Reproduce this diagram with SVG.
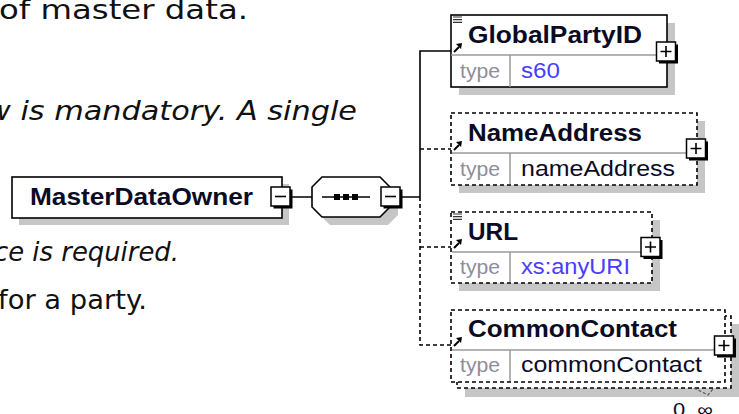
<svg xmlns="http://www.w3.org/2000/svg" width="739" height="414" viewBox="0 0 739 414">
<style>
.doc{font-family:"DejaVu Sans",Verdana,sans-serif;font-size:27px;fill:#111}
.it{font-style:italic}
.lbl{font-family:"Liberation Sans",Arial,sans-serif;font-weight:bold;font-size:23px;fill:#0b0b24}
.tp{font-family:"Liberation Sans",Arial,sans-serif;font-size:20px;fill:#8d8d9d}
.tv{font-family:"Liberation Sans",Arial,sans-serif;font-size:22px;fill:#0b0b24}
.blue{fill:#4a3cff}
.sh{fill:#c6c6c6}
.box{fill:#fff;stroke:#000;stroke-width:1.6}
.opt{stroke-dasharray:4 3}
.dv{stroke:#9a9a9a;stroke-width:1.5;fill:none}
.ln{stroke:#000;stroke-width:1.6;fill:none}
.dl{stroke:#000;stroke-width:1.6;fill:none;stroke-dasharray:4 3}
</style>
<defs>
<g id="plus">
<rect x="2.5" y="2.5" width="19" height="19" fill="#000"/>
<rect x="0" y="0" width="19" height="19" fill="#fff" stroke="#000" stroke-width="1.5"/>
<path d="M4 9.5H15M9.5 4V15" stroke="#000" stroke-width="1.6"/>
</g>
<g id="minus">
<rect x="2.5" y="2.5" width="19" height="19" fill="#000"/>
<rect x="0" y="0" width="19" height="19" fill="#fff" stroke="#000" stroke-width="1.5"/>
<path d="M4 9.5H15" stroke="#000" stroke-width="1.6"/>
</g>
<g id="arr">
<path d="M1 9L6 4" stroke="#000" stroke-width="2"/>
<polygon points="3,1 9,0 8,6" fill="#000"/>
</g>
<g id="docic">
<path d="M0 1H9M0 3.7H9M0 6.4H9" stroke="#333" stroke-width="1.2"/>
</g>
</defs>

<g id="text">
<text class="doc" x="-1" y="19" textLength="249" lengthAdjust="spacingAndGlyphs">of master data.</text>
<text class="doc it" x="-14" y="120" textLength="371" lengthAdjust="spacingAndGlyphs">w is mandatory. A single</text>
<text class="doc it" x="-6" y="261" textLength="185" lengthAdjust="spacingAndGlyphs">ce is required.</text>
<text class="doc" x="-2" y="309" textLength="149" lengthAdjust="spacingAndGlyphs">for a party.</text>
</g>

<g id="connectors">
<path class="ln" d="M292 197H312M401 197H420M420 197V51H451"/>
<path class="dl" d="M420 149H451M420 197V345H451M420 247H451"/>
</g>

<g id="MasterDataOwner">
<rect class="sh" x="19" y="184" width="270" height="41"/>
<rect class="box" x="12" y="177" width="270" height="41"/>
<text class="lbl" x="30" y="205" textLength="223" lengthAdjust="spacingAndGlyphs">MasterDataOwner</text>
<use href="#minus" x="271" y="187"/>
</g>

<g id="sequence">
<polygon class="sh" points="330,185 388,185 398,195 398,215 388,225 330,225 320,215 320,195"/>
<polygon class="box" points="322,177 380,177 390,187 390,207 380,217 322,217 312,207 312,187"/>
<path d="M322 197H370" stroke="#000" stroke-width="1.5"/>
<rect x="334" y="194" width="6" height="6" fill="#000"/>
<rect x="343" y="194" width="6" height="6" fill="#000"/>
<rect x="352" y="194" width="6" height="6" fill="#000"/>
<use href="#minus" x="381" y="187"/>
</g>

<g id="GlobalPartyID">
<rect class="sh" x="459" y="23" width="216" height="72"/>
<rect class="box" x="451" y="15" width="216" height="72"/>
<path class="dv" d="M451 55H667M510 55V87"/>
<use href="#docic" x="453" y="16"/>
<use href="#arr" x="453" y="43"/>
<text class="lbl" x="468" y="43" textLength="174" lengthAdjust="spacingAndGlyphs">GlobalPartyID</text>
<text class="tp" x="460" y="78" textLength="40" lengthAdjust="spacingAndGlyphs">type</text>
<text class="tv blue" x="521" y="78" textLength="39" lengthAdjust="spacingAndGlyphs">s60</text>
<use href="#plus" x="656.5" y="42"/>
</g>

<g id="NameAddress">
<rect class="sh" x="459" y="121" width="246" height="72"/>
<rect class="box opt" x="451" y="113" width="246" height="72"/>
<path class="dv" d="M452 153H696M510 153V184"/>
<use href="#arr" x="453" y="141"/>
<text class="lbl" x="468" y="141" textLength="174" lengthAdjust="spacingAndGlyphs">NameAddress</text>
<text class="tp" x="460" y="176" textLength="40" lengthAdjust="spacingAndGlyphs">type</text>
<text class="tv" x="521" y="176" textLength="154" lengthAdjust="spacingAndGlyphs">nameAddress</text>
<use href="#plus" x="686.5" y="139"/>
</g>

<g id="URL">
<rect class="sh" x="459" y="220" width="201" height="71"/>
<rect class="box opt" x="451" y="212" width="201" height="71"/>
<path class="dv" d="M452 252H651M510 252V282"/>
<use href="#docic" x="453" y="213"/>
<use href="#arr" x="453" y="239"/>
<text class="lbl" x="468" y="240" textLength="50" lengthAdjust="spacingAndGlyphs">URL</text>
<text class="tp" x="460" y="274" textLength="40" lengthAdjust="spacingAndGlyphs">type</text>
<text class="tv blue" x="521" y="274" textLength="109" lengthAdjust="spacingAndGlyphs">xs:anyURI</text>
<use href="#plus" x="641" y="237.5"/>
</g>

<g id="CommonContact">
<rect class="sh" x="465" y="324" width="274" height="73"/>
<rect class="box opt" x="457" y="316" width="274" height="72"/>
<rect class="box opt" x="451" y="310" width="274" height="72"/>
<path class="dv" d="M452 350H724M510 350V381"/>
<use href="#arr" x="453" y="337"/>
<text class="lbl" x="468" y="337" textLength="209" lengthAdjust="spacingAndGlyphs">CommonContact</text>
<text class="tp" x="460" y="372" textLength="40" lengthAdjust="spacingAndGlyphs">type</text>
<text class="tv" x="521" y="372" textLength="181" lengthAdjust="spacingAndGlyphs">commonContact</text>
<use href="#plus" x="714.5" y="336"/>
<path d="M694 388L708 395L713 389" stroke="#555" stroke-width="1.2" fill="none" stroke-dasharray="3 2"/>
<text class="tv" x="673" y="416" style="font-size:18px" textLength="40" lengthAdjust="spacingAndGlyphs">0..∞</text>
</g>
</svg>
